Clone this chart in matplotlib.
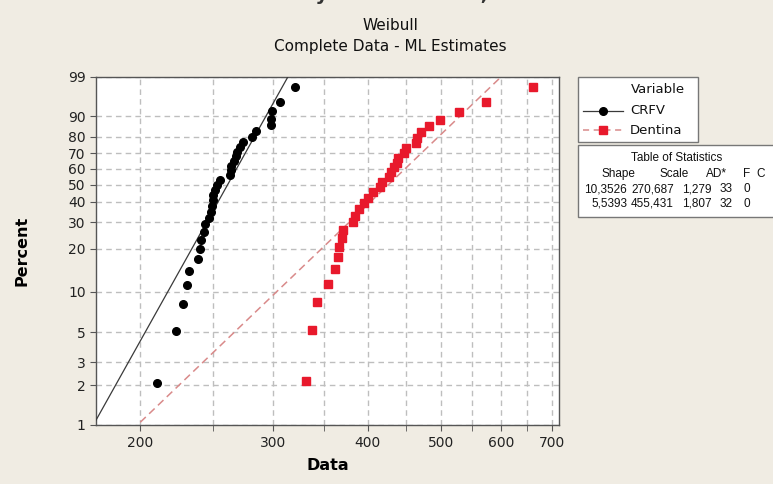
import numpy as np
import matplotlib
matplotlib.use("Agg")
import matplotlib.pyplot as plt
from matplotlib.lines import Line2D
from matplotlib.patches import Rectangle

plt.rcParams['font.family'] = ['DejaVu Sans']

# ---------------- data ----------------
crfv_data = [211, 223, 228, 231, 232, 239, 240, 241, 243, 244, 247, 248, 249,
             250, 250, 251, 253, 255, 263, 264, 264, 266, 268, 269, 271, 274,
             281, 285, 298, 298, 299, 306, 321]
crfv_percent = [2.10, 5.09, 8.08, 11.08, 14.07, 17.07, 20.06, 23.05, 26.05,
                29.04, 32.04, 35.03, 38.02, 41.02, 44.01, 47.01, 50.00, 52.99,
                55.99, 58.98, 61.98, 64.97, 67.96, 70.96, 73.95, 76.95, 79.94,
                82.93, 85.93, 88.92, 91.92, 94.91, 97.90]

dentina_data = [332, 338, 343, 355, 362, 365, 367, 370, 371, 382, 385, 389,
                395, 400, 407, 415, 418, 427, 429, 433, 437, 439, 447, 449,
                463, 465, 470, 482, 499, 528, 573, 662]
dentina_percent = [2.16, 5.25, 8.33, 11.42, 14.51, 17.59, 20.68, 23.77, 26.85,
                   29.94, 33.02, 36.11, 39.20, 42.28, 45.37, 48.46, 51.54,
                   54.63, 57.72, 60.80, 63.89, 66.98, 70.06, 73.15, 76.23,
                   79.32, 82.41, 85.49, 88.58, 91.67, 94.75, 97.84]

crfv_shape, crfv_scale = 10.3526, 270.687
dentina_shape, dentina_scale = 5.5393, 455.431

y_ticks = [1, 2, 3, 5, 10, 20, 30, 40, 50, 60, 70, 80, 90, 99]
x_ticks = [200, 300, 400, 500, 600, 700]
x_minor = [250, 350, 450, 550, 650]

stats_header = ["Shape", "Scale", "AD*", "F", "C"]
stats_rows = [["10,3526", "270,687", "1,279", "33", "0"],
              ["5,5393", "455,431", "1,807", "32", "0"]]

# ---------------- figure ----------------
W, H = 773, 484
bg = '#F0ECE3'
fig = plt.figure(figsize=(W / 100, H / 100), dpi=100, facecolor=bg)


def fx(px):
    return px / W


def fy(py):
    return 1 - py / H


ax = fig.add_axes([fx(96), fy(425), (559 - 96) / W, (425 - 77) / H])
ax.set_facecolor('white')


def wfwd(p):
    p = np.clip(np.asarray(p, dtype=float), 1e-9, 100 - 1e-9)
    return np.log(-np.log(1 - p / 100.0))


def winv(y):
    y = np.asarray(y, dtype=float)
    return 100.0 * (1 - np.exp(-np.exp(y)))


ax.set_xscale('log')
ax.set_yscale('function', functions=(wfwd, winv))
ax.set_xlim(175, 716)
ax.set_ylim(1, 99)

ax.set_xticks(x_ticks)
ax.set_xticklabels([str(v) for v in x_ticks])
ax.set_xticks(x_minor, minor=True)
ax.set_xticklabels([], minor=True)
ax.set_yticks(y_ticks)
ax.set_yticklabels([str(v) for v in y_ticks])
ax.yaxis.set_minor_locator(matplotlib.ticker.NullLocator())

grid_kw = dict(color='#BEBEBE', linestyle=(0, (4, 3)), linewidth=1.0)
ax.grid(True, which='major', axis='both', **grid_kw)
ax.grid(True, which='minor', axis='x', **grid_kw)
ax.set_axisbelow(True)

ax.tick_params(axis='both', which='both', direction='out', length=4,
               color='#555555', labelsize=10, labelcolor='#222222')
ax.tick_params(axis='x', which='major', pad=4)
for s in ax.spines.values():
    s.set_color('#555555')
    s.set_linewidth(1.0)

# fitted lines
pl = np.linspace(0.5, 99.5, 400)
ax.plot(crfv_scale * (-np.log(1 - pl / 100)) ** (1 / crfv_shape), pl,
        color='#3A3A3A', linewidth=0.9, zorder=3)
ax.plot(dentina_scale * (-np.log(1 - pl / 100)) ** (1 / dentina_shape), pl,
        color='#D98A8A', linewidth=1.1, linestyle=(0, (5, 3)), zorder=3)

# points
ax.plot(crfv_data, crfv_percent, linestyle='none', marker='o',
        markersize=5.5, color='black', zorder=4)
ax.plot(dentina_data, dentina_percent, linestyle='none', marker='s',
        markersize=6.3, color='#E8192C', zorder=4)

ax.set_xlabel('Data', fontsize=11.5, fontweight='bold', labelpad=6)
ax.set_ylabel('Percent', fontsize=11.5, fontweight='bold')
ax.yaxis.set_label_coords((29 - 96) / 463, 0.5)

# titles (main title is cropped at the top edge in the reference)
fig.text(0.51, fy(0), 'Probability Plot for CRFV; Dentina', ha='center',
         va='baseline', fontsize=14, fontweight='bold', color='#333333')
fig.text(fx(390), fy(25), 'Weibull', ha='center', va='center', fontsize=11,
         color='#111111')
fig.text(fx(390), fy(46), 'Complete Data - ML Estimates', ha='center',
         va='center', fontsize=11, color='#111111')

# legend box
fig.patches.append(Rectangle((fx(578), fy(142)), (698 - 578) / W,
                             (142 - 77) / H, transform=fig.transFigure,
                             facecolor='white', edgecolor='#777777',
                             linewidth=1.0))
fig.text(fx(658), fy(90), 'Variable', ha='center', va='center',
         fontsize=9.5, color='#111111')
fig.lines.append(Line2D([fx(583), fx(623)], [fy(111), fy(111)],
                        transform=fig.transFigure, color='#3A3A3A',
                        linewidth=0.9))
fig.lines.append(Line2D([fx(603)], [fy(111)], transform=fig.transFigure,
                        color='black', marker='o', markersize=5.5,
                        linestyle='none'))
fig.text(fx(630), fy(111), 'CRFV', ha='left', va='center', fontsize=9.5,
         color='#111111')
fig.lines.append(Line2D([fx(583), fx(623)], [fy(130), fy(130)],
                        transform=fig.transFigure, color='#D98A8A',
                        linewidth=1.1, linestyle=(0, (4, 3))))
fig.lines.append(Line2D([fx(603)], [fy(130)], transform=fig.transFigure,
                        color='#E8192C', marker='s', markersize=6.3,
                        linestyle='none'))
fig.text(fx(630), fy(130), 'Dentina', ha='left', va='center', fontsize=9.5,
         color='#111111')

# table of statistics box
fig.patches.append(Rectangle((fx(578), fy(217)), (790 - 578) / W,
                             (217 - 145) / H, transform=fig.transFigure,
                             facecolor='white', edgecolor='#777777',
                             linewidth=1.0, clip_on=False))
tfont = dict(fontsize=8.5, color='#111111', family=['Liberation Sans'])
fig.text(fx(677), fy(158), 'Table of Statistics', ha='center', va='center',
         **tfont)
header_right = [635, 689, 727, 750, 765]
row_right = [627, 674, 712, 733, 750]
for lab, xr in zip(stats_header, header_right):
    fig.text(fx(xr), fy(174), lab, ha='right', va='center', **tfont)
for r, yy in zip(stats_rows, [189, 204]):
    for lab, xr in zip(r, row_right):
        fig.text(fx(xr), fy(yy), lab, ha='right', va='center', **tfont)

fig.savefig('out.png', dpi=100, facecolor=bg)
